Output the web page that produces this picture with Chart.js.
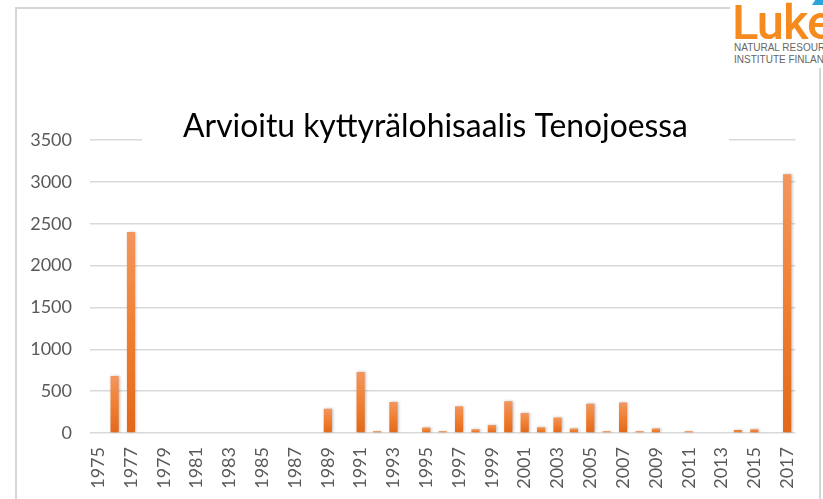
<!DOCTYPE html>
<html>
<head>
<meta charset="utf-8">
<title>Arvioitu kyttyrälohisaalis Tenojoessa</title>
<script src="https://cdn.jsdelivr.net/npm/chart.js@4/dist/chart.umd.min.js"></script>
<style>
    html, body {
        margin: 0;
        padding: 0;
        background: #ffffff;
        overflow: hidden;
    }
    #wrap {
        position: relative;
        width: 823px;
        height: 499px;
    }
    #frame {
        position: absolute;
        left: 15px;
        top: 7px;
        width: 806px;
        height: 600px;
        border: 2px solid #d6d6d6;
        box-sizing: border-box;
    }
    #chart {
        position: absolute;
        left: 0;
        top: 0;
    }
    #logo {
        position: absolute;
        left: 730px;
        top: 0;
        width: 93px;
        height: 68px;
        background: #ffffff;
        overflow: hidden;
    }
    #logo .word {
        position: absolute;
        left: 2px;
        top: -6px;
        font-family: Roboto, sans-serif;
        font-weight: 500;
        font-size: 49px;
        color: #f58a1f;
        letter-spacing: -1px;
    }
    #logo .swoosh {
        position: absolute;
        left: 85px;
        top: -4px;
        width: 14px;
        height: 9px;
        background: #2aa4dc;
        transform: skewX(-35deg);
    }
    #logo .sub {
        position: absolute;
        left: 4px;
        font-family: "Liberation Sans", sans-serif;
        font-size: 10px;
        color: #666666;
        white-space: nowrap;
    }
</style>
</head>
<body>
<div id="wrap">
    <div id="frame"></div>
    <canvas id="chart" width="823" height="499"></canvas>
    <div id="logo">
        <div class="word">Luke</div>
        <div class="swoosh"></div>
        <div class="sub" style="top:42px">NATURAL RESOURCES</div>
        <div class="sub" style="top:54px">INSTITUTE FINLAND</div>
    </div>
</div>
<script>
// Arvioitu kyttyrälohisaalis (kpl) vuosittain
const years = [
    '1975', '1976', '1977', '1978', '1979', '1980', '1981', '1982', '1983', '1984',
    '1985', '1986', '1987', '1988', '1989', '1990', '1991', '1992', '1993', '1994',
    '1995', '1996', '1997', '1998', '1999', '2000', '2001', '2002', '2003', '2004',
    '2005', '2006', '2007', '2008', '2009', '2010', '2011', '2012', '2013', '2014',
    '2015', '2016', '2017'
];
const catch1 = [
    0, 680, 2400, 0, 0, 0, 0, 0, 0, 0,
    0, 0, 0, 0, 290, 0, 730, 20, 370, 0,
    65, 20, 320, 45, 95, 380, 240, 70, 185, 55,
    350, 20, 365, 20, 55, 0, 20, 0, 0, 35,
    45, 0, 3090
];
const yTicks = [0, 500, 1000, 1500, 2000, 2500, 3000, 3500];
const chartTitle = 'Arvioitu kyttyrälohisaalis Tenojoessa';

const FONT = "Lato, 'Open Sans', sans-serif";
const GRID = '#d9d9d9';
const TEXT = '#595959';

function barFill(context) {
    const chart = context.chart;
    if (!chart.chartArea || context.type !== 'data') return '#ed7d31';
    const y = chart.scales.y;
    const top = y.getPixelForValue(context.raw);
    const bottom = y.getPixelForValue(0);
    if (bottom - top < 3) return '#ef8038';
    const g = chart.ctx.createLinearGradient(0, top, 0, bottom);
    g.addColorStop(0, '#f2965e');
    g.addColorStop(0.5, '#f07f31');
    g.addColorStop(1, '#e2681b');
    return g;
}

// soft shadow behind the bars
const barShadow = {
    id: 'barShadow',
    beforeDatasetsDraw(chart) {
        const c = chart.ctx;
        c.save();
        c.shadowColor = 'rgba(0, 0, 0, 0.28)';
        c.shadowBlur = 3;
        c.shadowOffsetX = 1;
        c.shadowOffsetY = 0;
    },
    afterDatasetsDraw(chart) {
        chart.ctx.restore();
    }
};

// title sits on a white box over the top gridline
const boxTitle = {
    id: 'boxTitle',
    afterDraw(chart) {
        const c = chart.ctx;
        c.save();
        c.fillStyle = '#ffffff';
        c.fillRect(142, 104, 587, 46);
        c.font = '28px ' + FONT;
        const w = c.measureText(chartTitle).width;
        const size = 28 * 505 / w;
        c.font = size.toFixed(2) + 'px ' + FONT;
        c.fillStyle = '#000000';
        c.textAlign = 'center';
        c.textBaseline = 'alphabetic';
        c.fillText(chartTitle, 435.5, 137);
        c.restore();
    }
};

const ctx = document.getElementById('chart');
new Chart(ctx, {
    type: 'bar',
    data: {
        labels: years,
        datasets: [{
            label: 'Saalis',
            data: catch1,
            backgroundColor: barFill,
            borderWidth: 0,
            categoryPercentage: 1,
            barPercentage: 0.5
        }]
    },
    options: {
        responsive: false,
        animation: false,
        layout: {
            padding: { left: 0, right: 25, top: 140, bottom: 0 }
        },
        plugins: {
            legend: { display: false },
            tooltip: { enabled: false },
            title: { display: false }
        },
        scales: {
            x: {
                grid: { display: false, drawTicks: false },
                border: { display: false },
                ticks: {
                    color: TEXT,
                    font: { family: FONT, size: 18 },
                    minRotation: 90,
                    maxRotation: 90,
                    autoSkip: false,
                    padding: 14,
                    callback: function(value, index) {
                        return index % 2 === 0 ? years[index] : '';
                    }
                },
                afterFit: function(scale) {
                    scale.height = 66;
                }
            },
            y: {
                min: yTicks[0],
                max: yTicks[yTicks.length - 1],
                grid: { color: GRID, lineWidth: 1.5, drawTicks: false },
                border: { display: false },
                afterBuildTicks: function(scale) {
                    scale.ticks = yTicks.map(v => ({ value: v }));
                },
                ticks: {
                    color: TEXT,
                    font: { family: FONT, size: 18 },
                    padding: 18,
                    callback: function(value) {
                        return String(value);
                    }
                },
                afterFit: function(scale) {
                    scale.width = 90;
                }
            }
        }
    },
    plugins: [barShadow, boxTitle]
});
</script>
</body>
</html>
